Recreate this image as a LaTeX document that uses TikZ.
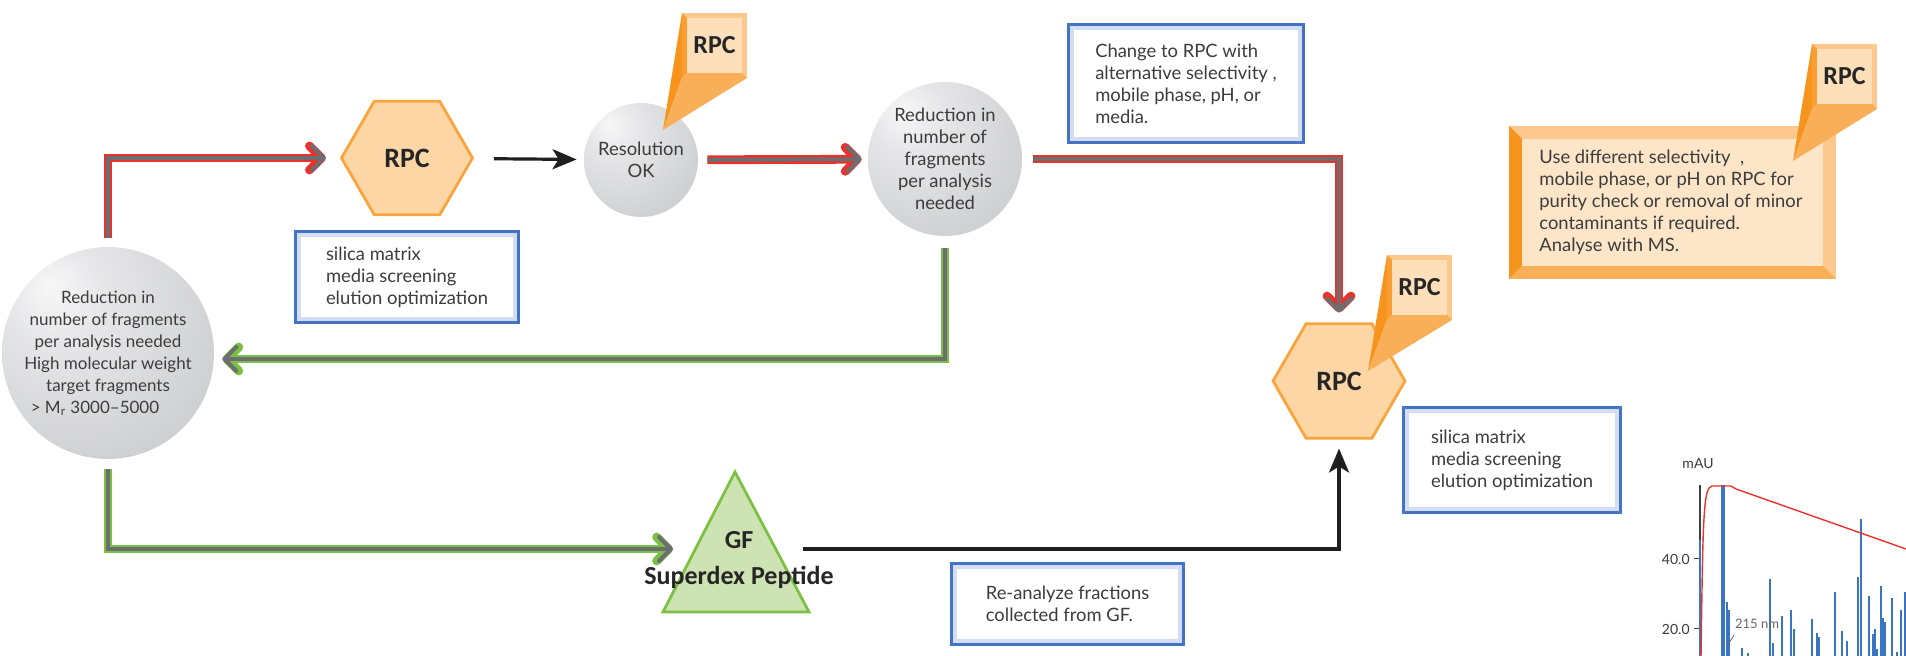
\documentclass[tikz,border=0pt]{standalone}
\usepackage{fontspec}
\setmainfont{Lato}
\newfontfamily\calib{Carlito}
\usetikzlibrary{arrows.meta, shapes.geometric, positioning}

\definecolor{flowred}{HTML}{E8322B}
\definecolor{flowgreen}{HTML}{7AC143}
\definecolor{flowgray}{HTML}{6D6E71}
\definecolor{txtgray}{HTML}{3C3C3C}
\definecolor{boxblue}{HTML}{4472C4}
\definecolor{boxglow}{HTML}{D3DDF2}
\definecolor{hexfill}{HTML}{FDD6A5}
\definecolor{hexline}{HTML}{F9A43C}
\definecolor{gffill}{HTML}{CDE3B3}
\definecolor{gfline}{HTML}{7DC143}
\definecolor{tagdark}{HTML}{F7941D}
\definecolor{tagmid}{HTML}{F9AE58}
\definecolor{taglite}{HTML}{FCC88D}
\definecolor{taginner}{HTML}{FDDFBA}
\definecolor{notefill}{HTML}{FDE5C8}
\definecolor{barblue}{HTML}{3A75C4}
\definecolor{sphhi}{HTML}{F7F7F8}
\definecolor{sphmid}{HTML}{CBCCCE}
\definecolor{sphlo}{HTML}{9FA0A4}

\pgfdeclareradialshading{sphere}{\pgfpoint{-14bp}{16bp}}{%
  color(0bp)=(sphhi); color(12bp)=(sphhi!60!sphmid); color(40bp)=(sphmid);
  color(64bp)=(sphlo); color(80bp)=(sphlo)}

\newcommand\bodyfont{\fontsize{9.2}{11}\selectfont}

\tikzset{
  ball/.style={circle, shading=sphere, inner sep=-12pt, align=center, text=txtgray, font=\bodyfont},
  hexa/.style={regular polygon, regular polygon sides=6, fill=hexfill, draw=hexline, line width=1.4pt,
    inner sep=0pt, text=black!85, font=\calib\bfseries\fontsize{14}{16}\selectfont},
  bluebox/.style={rectangle, draw=boxblue, line width=0.8pt, fill=white, align=left, inner sep=0pt,
    text=txtgray, font=\bodyfont,
    path picture={\draw[boxglow, line width=6pt] (path picture bounding box.south west) rectangle (path picture bounding box.north east);
                  \draw[boxblue, line width=2.2pt] (path picture bounding box.south west) rectangle (path picture bounding box.north east);}},
  gftri/.style={fill=gffill, draw=gfline, line width=1.4pt, line join=miter},
  redflow/.style={draw=flowred, line width=4.4pt, line join=miter,
    -{Straight Barb[length=6pt, width=12pt, round]},
    postaction={draw=flowgray, line width=2pt}},
  greenflow/.style={redflow, draw=flowgreen},
  blackflow/.style={draw=black!88, line width=1.6pt, -{Stealth[length=12pt, width=10pt, inset=3pt]}},
  tagtext/.style={inner sep=0pt, text=black!85, font=\calib\bfseries\fontsize{13}{15}\selectfont},
  charttext/.style={inner sep=0pt, text=txtgray, font=\fontsize{7}{8}\selectfont},
  bar/.style={draw=barblue, line width=1pt}
}

\begin{document}
\begin{tikzpicture}[x=0.5pt, y=-0.5pt]
\useasboundingbox (0,0) rectangle (1906,656);

% balls
\node[ball, minimum size=106pt, font=\fontsize{8.5}{11}\selectfont] (big) at (108,353)
  {Reduction in\\number of fragments\\per analysis needed\\High molecular weight\\target fragments\\
   > M\textsubscript{r} 3000--5000\hspace*{13pt}};
\node[ball, minimum size=57pt] (res) at (641,160) {Resolution\\OK};
\node[ball, minimum size=77pt] (red2) at (945,159) {Reduction in\\number of\\fragments\\per analysis\\needed};

% RPC and GF
\node[hexa, minimum size=65.5pt] (rpc1) at (407,158) {RPC};
\node[hexa, minimum size=66pt] (rpc2) at (1339,381) {RPC};
\filldraw[gftri] (735,472) -- (809,612) -- (663,612) -- cycle;
\node[align=center, text=black!85, font=\calib\bfseries\fontsize{13}{18}\selectfont] (gf) at (739,560)
  {GF\\Superdex Peptide};
\coordinate (gfin) at (673,549);
\coordinate (gfout) at (803,549);

% text boxes
\node[bluebox, minimum width=112pt, minimum height=46pt] (silica1) at (407,277)
  {silica matrix\\media screening\\elution optimization};
\node[bluebox, minimum width=118pt, minimum height=59.5pt] (change) at (1186,83.5)
  {Change to RPC with\\alternative selectivity ,\\mobile phase, pH, or\\media.};
\node[bluebox, minimum width=109pt, minimum height=53pt] (silica2) at (1512,460)
  {silica matrix\\media screening\\elution optimization};
\node[bluebox, minimum width=116.5pt, minimum height=41pt] (reana) at (1067.5,604)
  {Re-analyze fractions\\collected from GF.};

% orange note
\fill[taglite] (1509,126) rectangle (1836,279);
\fill[tagdark] (1509,126) -- (1522,139) -- (1522,266) -- (1509,279) -- cycle;
\fill[tagmid] (1509,279) -- (1522,266) -- (1823,266) -- (1836,279) -- cycle;
\fill[notefill] (1522,139) rectangle (1823,266);
\node[anchor=west, align=left, inner sep=0pt, text=txtgray, font=\bodyfont] (note) at (1539,202)
  {Use different selectivity\ \ ,\\mobile phase, or pH on RPC for\\purity check or removal of minor\\contaminants if required.\\Analyse with MS.};

% RPC tags
\foreach \bx/\by/\tx/\ty/\n in {682/13/663/130/a, 1387/255/1368/371/b, 1812/44/1793/161/c}{
  \fill[tagdark] (\bx,\by) -- (\bx,\by+65) -- (\tx,\ty) -- cycle;
  \fill[tagmid] (\bx,\by+65) -- (\bx+65,\by+65) -- (\tx,\ty) -- cycle;
  \fill[taglite] (\bx,\by) rectangle ++(65,65);
  \fill[tagdark!80!taglite] (\bx,\by) -- ++(5,5) -- ++(0,55) -- ++(-5,5) -- cycle;
  \fill[tagmid] (\bx,\by+65) -- ++(5,-5) -- ++(55,0) -- ++(5,5) -- cycle;
  \fill[taginner] (\bx+5,\by+5) rectangle ++(55,55);
  \node[tagtext] (tag\n) at (\bx+32.5,\by+32.5) {RPC};
}

% flows
\draw[redflow, shorten <=4.5pt, shorten >=7pt] (big.north) |- (rpc1.west);
\draw[blackflow, shorten <=10pt, shorten >=3.5pt] (rpc1) -- (res);
\draw[redflow, shorten <=4.5pt, shorten >=3pt] (res) -- (red2);
\draw[redflow, shorten <=5.5pt, shorten >=5pt] (red2.east) -| (rpc2.north);
\draw[greenflow, shorten <=6pt, shorten >=4pt] (red2.south) |- ([yshift=-3pt]big.east);
\draw[greenflow, shorten <=5pt] (big.south) |- (gfin);
\draw[blackflow, shorten >=4.5pt] (gfout) -| (rpc2.south);

% chromatogram (cut off)
\draw[black!75, line width=0.6pt] (1700,485) -- (1700,656);
\draw[black!75, line width=0.5pt] (1694,559) -- (1700,559) (1694,629) -- (1700,629);
\node[charttext] (mau) at (1698,464) {mAU};
\node[charttext, anchor=east] (t40) at (1690,559) {40.0};
\node[charttext, anchor=east] (t20) at (1690,629) {20.0};
\foreach \x/\t in {1700/540, 1727/602, 1729/610, 1742/648, 1748/653, 1770/579, 1773/643, 1782/616,
  1791/610, 1794/629, 1812/619, 1817/633, 1819/637, 1835/592, 1842/631, 1847/641, 1858/577,
  1861/519, 1869/596, 1873/634, 1875/629, 1877/649, 1881/586, 1883/618, 1885/622, 1892/598,
  1897/652, 1901/610, 1905/592}
  \draw[bar] (\x,656) -- (\x,\t);
\draw[bar, line width=2pt] (1723,656) -- (1723,485);
\draw[flowred, line width=0.7pt] (1701,656) .. controls (1703,520) and (1703,487) .. (1712,486)
  -- (1731,486) -- (1736,489) -- (1906,549);
\draw[black!60, line width=0.4pt] (1727,646) -- (1734,635);
\node[charttext, text=black!60, font=\fontsize{6.5}{7}\selectfont] (nm) at (1757,624) {215 nm};
\end{tikzpicture}
\end{document}
